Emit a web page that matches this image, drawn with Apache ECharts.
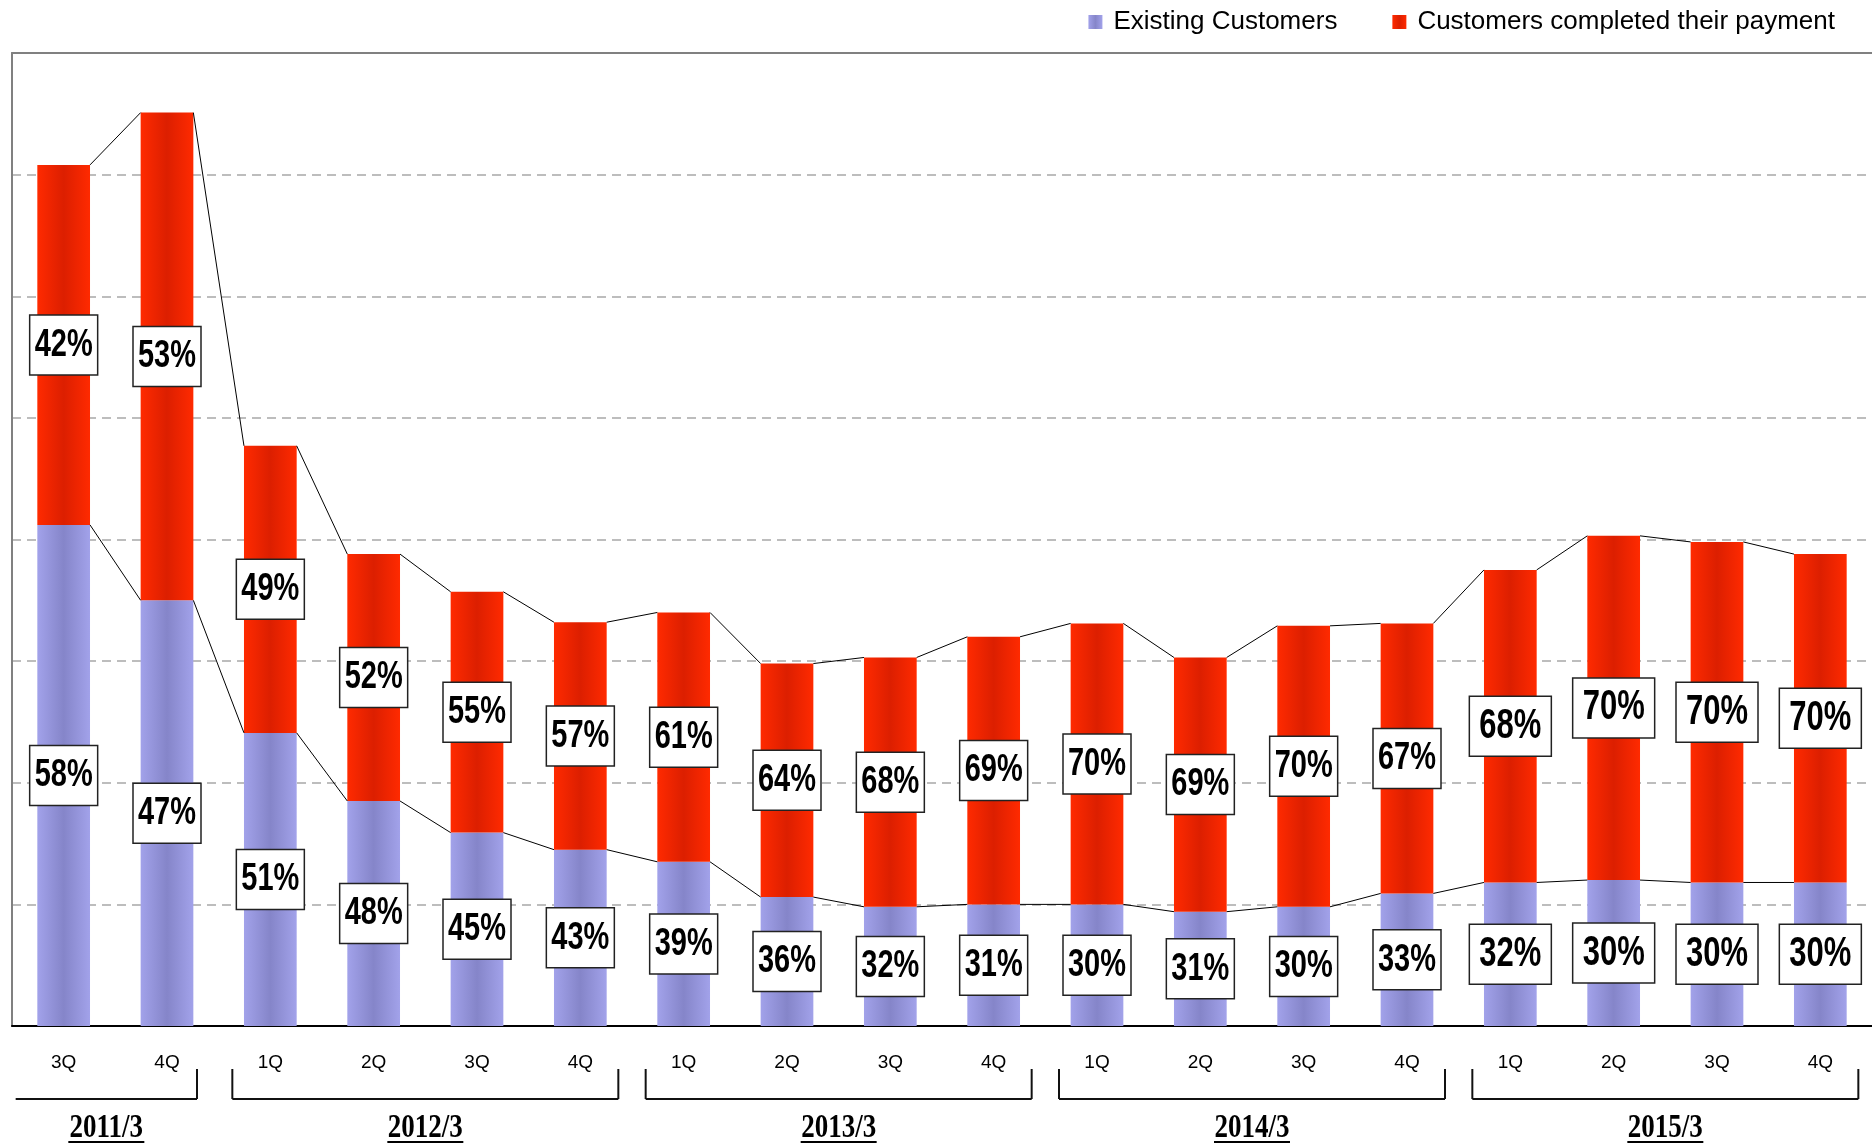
<!DOCTYPE html>
<html>
<head>
<meta charset="utf-8">
<script src="https://cdn.jsdelivr.net/npm/echarts@6/dist/echarts.min.js"></script>
<style>
html, body { margin: 0; padding: 0; background: #fff; }
#main { width: 1872px; height: 1144px; }
</style>
</head>
<body>
<div id="main"></div>
<script>
var quarters = ['3Q','4Q','1Q','2Q','3Q','4Q','1Q','2Q','3Q','4Q','1Q','2Q','3Q','4Q','1Q','2Q','3Q','4Q'];
var existing = [412, 350, 241, 185, 159, 145, 135, 106, 98, 100, 100, 94, 98, 109, 118, 120, 118, 118];
var completed = [296, 401, 236, 203, 198, 187, 205, 192, 205, 220, 231, 209, 231, 222, 257, 283, 280, 270];
var existingPct = ['58%','47%','51%','48%','45%','43%','39%','36%','32%','31%','30%','31%','30%','33%','32%','30%','30%','30%'];
var completedPct = ['42%','53%','49%','52%','55%','57%','61%','64%','68%','69%','70%','69%','70%','67%','68%','70%','70%','70%'];
var years = ['2011/3','2012/3','2013/3','2014/3','2015/3'];
var yearStart = [0, 2, 6, 10, 14];
var yearEnd = [1, 5, 9, 13, 17];

var BAR_W = 0.51;
var SANS = '"Liberation Sans", Arial, sans-serif';

var totals = existing.map(function(v, i) { return v + completed[i]; });
var blueMid = existing.map(function(v) { return v / 2; });
var redMid = existing.map(function(v, i) { return v + completed[i] / 2; });

function grad(edge, mid) {
	return {
		type: 'linear', x: 0, y: 0, x2: 1, y2: 0,
		colorStops: [{offset: 0, color: edge}, {offset: 0.5, color: mid}, {offset: 1, color: edge}]
	};
}

// thin lines joining the tops of neighbouring bars
function linkSeries(vals) {
	var d = [];
	for (var i = 0; i < vals.length - 1; i++) d.push([i, vals[i], vals[i + 1]]);
	return {
		type: 'custom', silent: true, z: 5, data: d,
		encode: {x: 0, y: 1},
		renderItem: function(params, api) {
			var i = api.value(0);
			var p1 = api.coord([i, api.value(1)]);
			var p2 = api.coord([i + 1, api.value(2)]);
			var hw = api.size([1, 0])[0] * BAR_W / 2;
			return {
				type: 'line',
				shape: {x1: p1[0] + hw, y1: p1[1], x2: p2[0] - hw, y2: p2[1]},
				style: {stroke: '#000', lineWidth: 1}
			};
		}
	};
}

// white boxed percentage labels
function labelSeries(mids, texts) {
	return {
		type: 'custom', silent: true, z: 10,
		data: mids.map(function(m, i) { return [i, m]; }),
		encode: {x: 0, y: 1},
		renderItem: function(params, api) {
			var i = params.dataIndex;
			var p = api.coord([api.value(0), api.value(1)]);
			var wide = i >= 14;
			var w = wide ? 82 : 68, h = 60;
			return {
				type: 'group',
				children: [{
					type: 'rect',
					shape: {x: p[0] - w / 2, y: p[1] - h / 2, width: w, height: h},
					style: {fill: '#fff', stroke: '#222', lineWidth: 1.5}
				}, {
					type: 'text', x: p[0], y: p[1], scaleY: 1.35,
					style: {
						text: texts[i], fill: '#000',
						font: 'bold ' + (wide ? 31 : 29) + 'px ' + SANS,
						align: 'center', verticalAlign: 'middle',
						textAlign: 'center', textVerticalAlign: 'middle'
					}
				}]
			};
		}
	};
}

// fiscal year brackets under the quarter labels
var bracketSeries = {
	type: 'custom', silent: true, clip: false, z: 3,
	data: years.map(function(y, k) { return [yearStart[k], yearEnd[k], 0]; }),
	encode: {x: 0, y: 2},
	renderItem: function(params, api) {
		var k = params.dataIndex;
		var a = api.coord([api.value(0), 0]);
		var b = api.coord([api.value(1), 0]);
		var base = a[1];
		var first = k === 0;
		var x1 = a[0] - (first ? 48 : 38), x2 = b[0] + (first ? 30 : 38);
		var yt = base + 43, yb = base + 73;
		var st = {stroke: '#111', lineWidth: 2};
		var cx = (x1 + x2) / 2;
		var kids = [
			{type: 'line', shape: {x1: x1, y1: yb, x2: x2, y2: yb}, style: st},
			{type: 'line', shape: {x1: x2, y1: yt, x2: x2, y2: yb}, style: st},
			{type: 'text', x: cx, y: base + 102, scaleY: 1.25,
				style: {
					text: years[k], fill: '#000',
					font: 'bold 27px "Liberation Serif", "Times New Roman", serif',
					align: 'center', verticalAlign: 'middle',
					textAlign: 'center', textVerticalAlign: 'middle'
				}},
			{type: 'line', shape: {x1: cx - 38, y1: base + 116, x2: cx + 38, y2: base + 116}, style: {stroke: '#000', lineWidth: 2}}
		];
		if (!first) kids.push({type: 'line', shape: {x1: x1, y1: yt, x2: x1, y2: yb}, style: st});
		return {type: 'group', children: kids};
	}
};

var chart = echarts.init(document.getElementById('main'));
chart.setOption({
	animation: false,
	backgroundColor: '#fff',
	legend: {
		data: ['Existing Customers', 'Customers completed their payment'],
		right: 32, top: 4,
		itemWidth: 14, itemHeight: 14, itemGap: 55,
		icon: 'rect',
		textStyle: {fontSize: 26, color: '#000', fontFamily: SANS, padding: [0, 0, 0, 6]}
	},
	grid: {left: 12, right: 0, top: 53, bottom: 118},
	xAxis: [{
		type: 'category',
		data: quarters,
		axisLine: {lineStyle: {color: '#000', width: 2}},
		axisTick: {inside: true, length: 8, lineStyle: {color: '#000'}},
		axisLabel: {fontSize: 19, color: '#000', fontFamily: SANS, margin: 27}
	}, {
		type: 'category',
		data: quarters,
		position: 'top',
		axisLine: {lineStyle: {color: '#808080', width: 2}},
		axisTick: {show: false},
		axisLabel: {show: false}
	}],
	yAxis: {
		type: 'value', min: 0, max: 800, interval: 100,
		axisLine: {show: true, lineStyle: {color: '#808080', width: 2}},
		axisTick: {show: false},
		axisLabel: {show: false},
		splitLine: {lineStyle: {color: '#a8a8a8', width: 1.5, type: [9, 6]}}
	},
	series: [{
		name: 'Existing Customers',
		type: 'bar', stack: 'all', barWidth: (BAR_W * 100) + '%',
		itemStyle: {color: grad('#a2a2ea', '#8585c9')},
		data: existing
	}, {
		name: 'Customers completed their payment',
		type: 'bar', stack: 'all', barWidth: (BAR_W * 100) + '%',
		itemStyle: {color: grad('#ff2a00', '#dc1f00')},
		data: completed
	},
	linkSeries(existing),
	linkSeries(totals),
	labelSeries(blueMid, existingPct),
	labelSeries(redMid, completedPct),
	bracketSeries]
});
</script>
</body>
</html>
